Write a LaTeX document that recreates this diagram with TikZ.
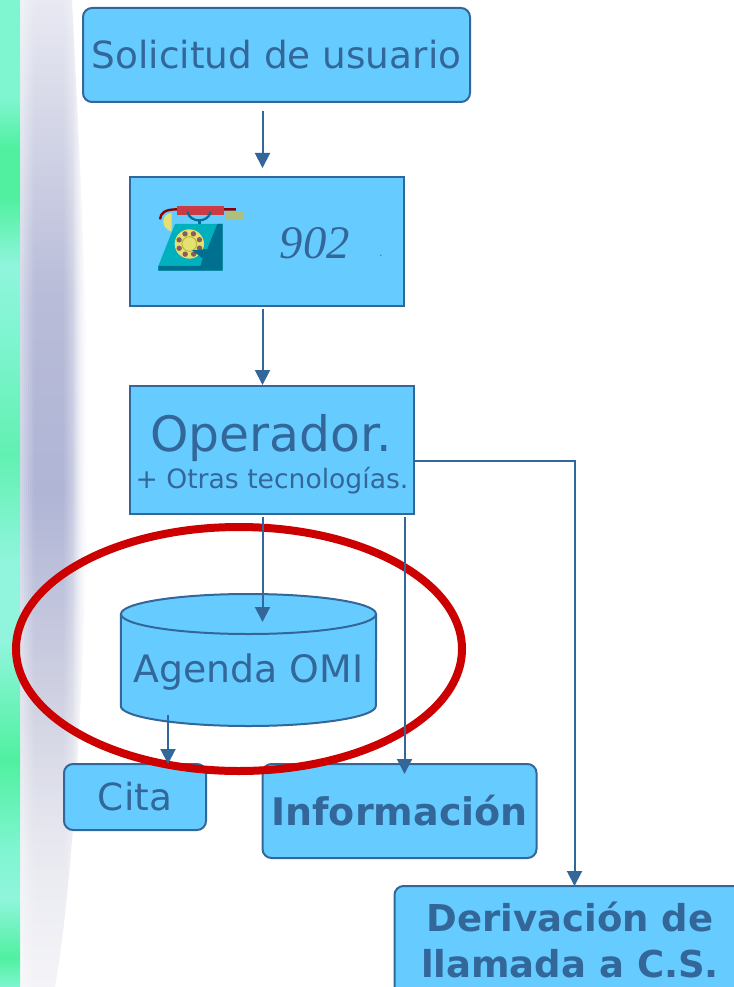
\documentclass[tikz,border=0pt]{standalone}
\usepackage{fontspec}
\setmainfont{DejaVu Sans}
\newfontfamily\numfont{Liberation Serif}
\usetikzlibrary{arrows.meta}
\definecolor{boxfill}{HTML}{66CCFF}
\definecolor{boxline}{HTML}{336699}
\definecolor{redring}{HTML}{CC0000}
\definecolor{gA}{HTML}{7FF5D0}
\definecolor{gB}{HTML}{50F0A0}
\definecolor{gC}{HTML}{90F5DC}
\definecolor{gD}{HTML}{62F0B2}
\definecolor{bandA}{HTML}{F4F4F8}
\definecolor{bandB}{HTML}{E8E9F0}
\definecolor{bandC}{HTML}{D0D2E2}
\definecolor{bandD}{HTML}{B0B5D6}
\definecolor{bandE}{HTML}{B8BCD8}
\definecolor{bandF}{HTML}{E8E9F2}
\pgfdeclareverticalshading{greenstrip}{100bp}{
 color(0bp)=(gA); color(25bp)=(gA); color(26.5bp)=(gB); color(29.5bp)=(gC); color(32bp)=(gA); color(36.5bp)=(gB);
 color(42.5bp)=(gC); color(46.5bp)=(gC); color(52bp)=(gD); color(58bp)=(gA); color(61.5bp)=(gC);
 color(65bp)=(gB); color(67.5bp)=(gB); color(70bp)=(gA); color(75bp)=(gA); color(100bp)=(gA)}
\pgfdeclareverticalshading{bandshade}{100bp}{
 color(0bp)=(bandA); color(25bp)=(bandA); color(32bp)=(bandB); color(39.5bp)=(bandC); color(50bp)=(bandD);
 color(60bp)=(bandE); color(75bp)=(bandF); color(100bp)=(bandF)}
\tikzset{
 flowbox/.style={draw=boxline, line width=2pt, fill=boxfill, text=boxline, align=center, inner sep=0pt},
 roundbox/.style={flowbox, rounded corners=9pt},
 flow/.style={draw=boxline, line width=2pt, -{Triangle[length=15pt,width=15pt]}},
 ring/.style={draw=redring, line width=8pt},
 boxtext/.style={text=boxline, inner sep=0pt, align=center}
}
\begin{document}
\begin{tikzpicture}[x=1pt,y=-1pt]
\useasboundingbox (0,0) rectangle (733,987);
% background
\fill[white] (0,0) rectangle (733,987);
\begin{scope}
 \clip (20,0) -- (72,0) .. controls (82,200) and (92,400) .. (86,560) .. controls (80,760) and (70,900) .. (55,987) -- (20,987) -- cycle;
 \foreach \xa in {20,22,...,88}{
  \pgfmathsetmacro{\op}{\xa<34 ? 0.55+0.45*(\xa-20)/14 : (\xa<62 ? 1 : (\xa<72 ? 1-0.35*(\xa-62)/10 : 0.65*(88-\xa)/16*(88-\xa)/16))}
  \shade[shading=bandshade, opacity=\op] (\xa,0) rectangle (\xa+2,987);
 }
\end{scope}
\shade[shading=greenstrip] (0,0) rectangle (20,987);
% boxes
\node[roundbox, minimum width=387pt, minimum height=94pt, font=\fontsize{37.4}{40}\selectfont] (req) at (276.5,55) {Solicitud de usuario};
\node[flowbox, minimum width=274pt, minimum height=128pt] (phone) at (267,241.5) {};
\node[flowbox, minimum width=284pt, minimum height=128pt] (oper) at (272,449.5) {};
\node[boxtext, font=\fontsize{48.8}{52}\selectfont] (opertxt) at (271,438) {Operador.};
\node[boxtext, font=\fontsize{26.6}{30}\selectfont] (opersub) at (272,481) {+ Otras tecnologías.};
\node[boxtext, font=\numfont\itshape\fontsize{46.7}{50}\selectfont] (num) at (315,243) {902};
\node[boxtext, font=\fontsize{10}{11}\selectfont] (dot) at (381,256) {.};
% telephone
\begin{scope}[shift={(130,180)},x=0.3333pt,y=-0.3333pt]
 \fill[fill={rgb,255:red,229;green,224;blue,112}] (125,98) .. controls (105,102) and (100,112) .. (100,125) .. controls (100,138) and (110,150) .. (125,155) -- cycle;
 \draw[line width=2.4pt, draw={rgb,255:red,140;green,0;blue,0}] (90,118) .. controls (92,98) and (105,88) .. (142,88) -- (318,88);
 \fill[fill={rgb,255:red,176;green,190;blue,125}] (285,96) rectangle (340,119);
 \fill[fill={rgb,255:red,204;green,58;blue,68}] (141,77) rectangle (282,105);
 \draw[line width=2.2pt, draw={rgb,255:red,0;green,112;blue,144}] (172,95) .. controls (180,130) and (235,130) .. (242,95);
 \draw[line width=2.6pt, draw={rgb,255:red,0;green,112;blue,144}] (208,120) -- (208,135);
 \fill[fill={rgb,255:red,0;green,176;blue,188}] (135,132) -- (278,132) -- (278,272) -- (85,272) -- (85,258) -- cycle;
 \fill[fill={rgb,255:red,229;green,224;blue,112}] (178,192) circle[radius=44];
 \draw[line width=1pt, draw={rgb,255:red,176;green,190;blue,60}] (178,192) circle[radius=22];
 \foreach \a in {0,45,...,315}{
  \fill[fill={rgb,255:red,138;green,90;blue,96}] (178,192) ++(\a+22:33) circle[radius=8];
 }
 \fill[fill={rgb,255:red,0;green,112;blue,144}] (262,132) -- (278,132) -- (278,272) -- (85,272) -- (85,258) -- (212,258) -- (218,235) -- (186,211) -- (232,207) -- cycle;
\end{scope}
% cylinder
\node[inner sep=0pt, minimum width=255pt, minimum height=132pt] (cyl) at (248.5,660) {};
\draw[boxline, line width=2pt, fill=boxfill] (cyl.west |- 0,614) -- (cyl.west |- 0,706) arc[start angle=180,end angle=360,x radius=127.5pt,y radius=20pt] -- (cyl.east |- 0,614);
\draw[boxline, line width=2pt, fill=boxfill] (248.5,614) ellipse[x radius=127.5pt,y radius=20pt];
\node[boxtext, font=\fontsize{37.8}{40}\selectfont] (agenda) at (248.5,672) {Agenda OMI};
% lower boxes
\node[roundbox, minimum width=142pt, minimum height=66pt, font=\fontsize{37.4}{40}\selectfont] (cita) at (135,797) {Cita};
\node[roundbox, minimum width=274pt, minimum height=94pt, font=\bfseries\fontsize{38}{40}\selectfont] (info) at (399.5,811) {Información};
\node[roundbox, minimum width=351pt, minimum height=130pt] (deriv) at (570,951) {};
\node[boxtext, font=\bfseries\fontsize{37}{46}\selectfont] (derivtxt) at (570,940) {Derivación de\\llamada a C.S.};
% ring
\draw[ring] (239,649) ellipse[x radius=223pt,y radius=122pt];
% connectors
\coordinate (a1) at (262.5,111); \coordinate (a2) at (262.5,168);
\coordinate (b1) at (262.5,309); \coordinate (b2) at (262.5,385);
\coordinate (c1) at (262.5,517); \coordinate (c2) at (262.5,622);
\coordinate (d1) at (404.5,517); \coordinate (d2) at (404.5,774);
\coordinate (e1) at (168,715); \coordinate (e2) at (168,764);
\coordinate (f2) at (574.5,886);
\draw[flow] (a1) -- (a2);
\draw[flow] (b1) -- (b2);
\draw[flow] (c1) -- (c2);
\draw[flow] (d1) -- (d2);
\draw[flow] (e1) -- (e2);
\draw[flow] (oper.east |- 0,461) -| (f2);
\end{tikzpicture}
\end{document}
